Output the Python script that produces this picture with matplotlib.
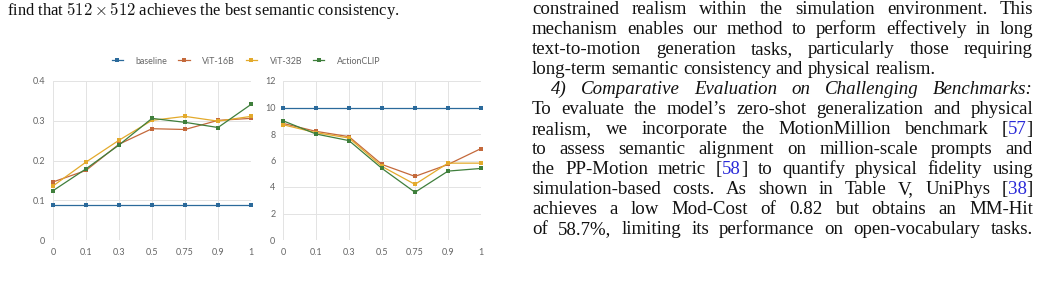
import matplotlib
matplotlib.use("Agg")
import matplotlib.pyplot as plt
from matplotlib.lines import Line2D

# ---------------- data ----------------
x_labels = ["0", "0.1", "0.3", "0.5", "0.75", "0.9", "1"]
series_names = ["baseline", "ViT-16B", "ViT-32B", "ActionCLIP"]

left_baseline = [0.088, 0.088, 0.088, 0.088, 0.088, 0.088, 0.088]
left_vit16 = [0.146, 0.175, 0.241, 0.280, 0.278, 0.301, 0.306]
left_vit32 = [0.136, 0.196, 0.251, 0.301, 0.311, 0.299, 0.311]
left_action = [0.124, 0.179, 0.239, 0.306, 0.296, 0.283, 0.341]

right_baseline = [10.0, 10.0, 10.0, 10.0, 10.0, 10.0, 10.0]
right_vit16 = [8.8, 8.2, 7.8, 5.7, 4.8, 5.7, 6.9]
right_vit32 = [8.7, 8.1, 7.7, 5.55, 4.2, 5.8, 5.8]
right_action = [9.0, 8.0, 7.5, 5.4, 3.6, 5.2, 5.4]

left_yticks = [0, 0.1, 0.2, 0.3, 0.4]
left_ytick_labels = ["0", "0.1", "0.2", "0.3", "0.4"]
right_yticks = [0, 2, 4, 6, 8, 10, 12]
right_ytick_labels = ["0", "2", "4", "6", "8", "10", "12"]

colors = ["#2b6a9b", "#c4693b", "#e3aa2c", "#3f7f3c"]

left_text = r"find that $512 \times 512$ achieves the best semantic consistency."
right_lines = [
    ("constrained realism within the simulation environment. This", True, False),
    ("mechanism enables our method to perform effectively in long", True, False),
    ("text-to-motion generation tasks, particularly those requiring", True, False),
    ("long-term semantic consistency and physical realism.", False, False),
    ("4) Comparative Evaluation on Challenging Benchmarks:", True, True),
    ("To evaluate the model\u2019s zero-shot generalization and physical", True, False),
    ("realism, we incorporate the MotionMillion benchmark [{57}]", True, False),
    ("to assess semantic alignment on million-scale prompts and", True, False),
    ("the PP-Motion metric [{58}] to quantify physical fidelity using", True, False),
    ("simulation-based costs. As shown in Table V, UniPhys [{38}]", True, False),
    ("achieves a low Mod-Cost of 0.82 but obtains an MM-Hit", True, False),
    ("of 58.7%, limiting its performance on open-vocabulary tasks.", True, False),
]

# ---------------- figure ----------------
W, H = 1040, 283
plt.rcParams["mathtext.fontset"] = "cm"
fig = plt.figure(figsize=(W / 100, H / 100), dpi=100)
fig.patch.set_facecolor("white")

def px_axes(x0, x1, ytop, ybot):
    return fig.add_axes([x0 / W, (H - ybot) / H, (x1 - x0) / W, (ybot - ytop) / H])

ax1 = px_axes(53, 251, 81, 240)
ax2 = px_axes(283, 481, 81, 240)

xs = list(range(len(x_labels)))
tick_font = dict(family="Lato", size=6.5, color="#666666")

for ax, data, yt, ytl, ylim in [
    (ax1, [left_baseline, left_vit16, left_vit32, left_action], left_yticks, left_ytick_labels, (0, 0.4)),
    (ax2, [right_baseline, right_vit16, right_vit32, right_action], right_yticks, right_ytick_labels, (0, 12)),
]:
    for vals, c, name in zip(data, colors, series_names):
        ax.plot(xs, vals, color=c, lw=0.9, marker="s", ms=2.6, mew=0, label=name, clip_on=False)
    ax.set_xlim(0, 6)
    ax.set_ylim(*ylim)
    ax.set_xticks(xs)
    ax.set_xticklabels(x_labels, **tick_font)
    ax.set_yticks(yt)
    ax.set_yticklabels(ytl, **tick_font)
    ax.tick_params(axis="y", length=0, pad=5.5)
    ax.tick_params(axis="x", length=0, pad=6.0)
    ax.grid(True, color="#e3e3e3", lw=0.7)
    ax.set_axisbelow(True)
    for s in ax.spines.values():
        s.set_visible(False)

handles = [Line2D([], [], color=c, lw=0.9, marker="s", ms=2.6, mew=0) for c in colors]
fig.legend(handles, series_names, loc="center", bbox_to_anchor=(246 / W, (H - 61) / H),
           ncol=4, frameon=False, prop=dict(family="Lato", size=6.4), labelcolor="#666666",
           handlelength=1.3, columnspacing=1.2, handletextpad=1.4, borderpad=0)

# ---------------- page text ----------------
serif = "Liberation Serif"
fs_left = 11.9
fs = 13.6
ink = "#111111"
link = "#2a2ad8"
fig.text(7 / W, (H - 15) / H, left_text, family=serif, size=fs_left, va="baseline", ha="left",
         color=ink)

renderer = fig.canvas.get_renderer()
_cache = {}

def measure(s, style):
    key = (s, style)
    if key not in _cache:
        t = fig.text(0, 0, s, family=serif, size=fs, style=style)
        _cache[key] = t.get_window_extent(renderer).width
        t.remove()
    return _cache[key]

def advance(prefix, style):
    # horizontal advance of a prefix, measured against a reference glyph
    if not prefix:
        return 0.0
    return measure(prefix + "n", style) - measure("n", style)

x0, x1 = 532, 1033
base0, step = 13.5, 20.05
for i, (line, justify, italic) in enumerate(right_lines):
    style = "italic" if italic else "normal"
    start = 551 if italic else x0
    words = line.split(" ")
    parsed = []
    for w in words:
        pieces = []
        buf = ""
        k = 0
        while k < len(w):
            ch = w[k]
            if ch == "{":
                if buf:
                    pieces.append((buf, ink))
                buf = ""
                j = w.index("}", k)
                pieces.append((w[k + 1:j], link))
                k = j + 1
                continue
            buf += ch
            k += 1
        if buf:
            pieces.append((buf, ink))
        parsed.append(pieces)
    plain_words = ["".join(p for p, _ in pcs) for pcs in parsed]
    word_w = [measure(pw, style) for pw in plain_words]
    space = measure("x x", style) - measure("xx", style)
    if justify and len(parsed) > 1:
        gap = (x1 - start - sum(word_w)) / (len(parsed) - 1)
    else:
        gap = space
    y = H - (base0 + step * i)
    xcur = start
    for pcs, ww in zip(parsed, word_w):
        prefix = ""
        for p, c in pcs:
            xp = xcur + advance(prefix, style)
            fig.text(xp / W, y / H, p, family=serif, size=fs, style=style, color=c,
                     va="baseline", ha="left")
            prefix += p
        xcur += ww + gap

fig.savefig("out.png", dpi=100)
